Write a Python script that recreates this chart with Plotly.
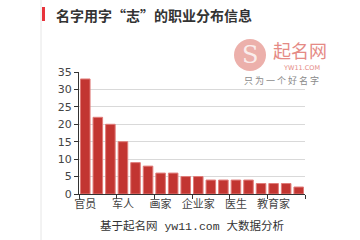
import plotly.graph_objects as go

values = [33, 22, 20, 15, 9, 8, 6, 6, 5, 5, 4, 4, 4, 4, 3, 3, 3, 2]
tick_positions = [0, 3, 6, 9, 12, 15]
tick_labels = ["官员", "军人", "画家", "企业家", "医生", "教育家"]
title_text = "名字用字“志”的职业分布信息"
footer_text = "基于起名网 yw11.com 大数据分析"

W, H = 360, 240
L, R, T, B = 79, 55, 72, 46
PW, PH = W - L - R, H - T - B
CJK = "Noto Sans CJK SC"

def px(x):
    return (x - L) / PW

def py(y):
    return (H - B - y) / PH

fig = go.Figure()
fig.add_trace(go.Bar(
    x=list(range(len(values))),
    y=values,
    marker=dict(color="#c23531", line=dict(color="#e07b78", width=1)),
    width=0.76,
    hoverinfo="skip",
))

fig.update_layout(
    width=W, height=H,
    margin=dict(l=L, r=R, t=T, b=B),
    paper_bgcolor="white",
    plot_bgcolor="white",
    showlegend=False,
    font=dict(family=CJK, size=11, color="#444"),
    xaxis=dict(
        range=[-0.5, len(values) - 0.5],
        tickmode="array",
        tickvals=tick_positions,
        ticktext=tick_labels,
        ticks="",
        showgrid=False,
        showline=True,
        linecolor="#333",
        linewidth=1,
        zeroline=False,
        tickfont=dict(size=11, color="#444", family=CJK),
        minor=dict(tick0=-0.5, dtick=3, ticks="outside", ticklen=4,
                   tickcolor="#333", showgrid=False),
        fixedrange=True,
    ),
    yaxis=dict(
        range=[0, 35],
        dtick=5,
        ticks="outside",
        ticklen=4,
        tickcolor="#333",
        showline=True,
        linecolor="#333",
        linewidth=1,
        showgrid=True,
        gridcolor="#d9d9d9",
        gridwidth=1,
        zeroline=False,
        tickfont=dict(size=11, color="#444", family="DejaVu Sans"),
        fixedrange=True,
    ),
)

shapes = [
    dict(type="line", xref="paper", yref="paper", x0=px(41), x1=px(41), y0=py(240), y1=py(0),
         line=dict(color="#e6e6e6", width=1)),
    dict(type="rect", xref="paper", yref="paper", x0=px(42), x1=px(45), y0=py(21), y1=py(7),
         fillcolor="#e8343c", line=dict(width=0)),
    dict(type="circle", xref="paper", yref="paper", x0=px(234), x1=px(266), y0=py(71), y1=py(39),
         fillcolor="#e9a29c", line=dict(width=0), opacity=0.85),
]
fig.update_layout(shapes=shapes)

annotations = [
    dict(text="<b>" + title_text + "</b>", x=px(54), y=py(15), xref="paper", yref="paper",
         xanchor="left", yanchor="middle", showarrow=False,
         font=dict(family=CJK, size=14, color="#333")),
    dict(text=footer_text, x=px(192), y=py(226), xref="paper", yref="paper",
         xanchor="center", yanchor="middle", showarrow=False,
         font=dict(family="Liberation Mono, " + CJK, size=11.5, color="#333")),
    dict(text="S", x=px(250), y=py(55), xref="paper", yref="paper",
         xanchor="center", yanchor="middle", showarrow=False,
         font=dict(family="DejaVu Serif", size=24, color="rgba(255,255,255,0.8)")),
    dict(text="起名网", x=px(300), y=py(50), xref="paper", yref="paper",
         xanchor="center", yanchor="middle", showarrow=False,
         font=dict(family=CJK, size=18, color="#e58a85")),
    dict(text="YW11.COM", x=px(301), y=py(68), xref="paper", yref="paper",
         xanchor="center", yanchor="middle", showarrow=False,
         font=dict(family="DejaVu Sans", size=6.5, color="#e58a85")),
    dict(text="只 为 一 个 好 名 字", x=px(281), y=py(80), xref="paper", yref="paper",
         xanchor="center", yanchor="middle", showarrow=False,
         font=dict(family=CJK, size=9, color="#8a8a8a")),
]
fig.update_layout(annotations=annotations)

fig.write_html("out.html", config={"displayModeBar": False})
